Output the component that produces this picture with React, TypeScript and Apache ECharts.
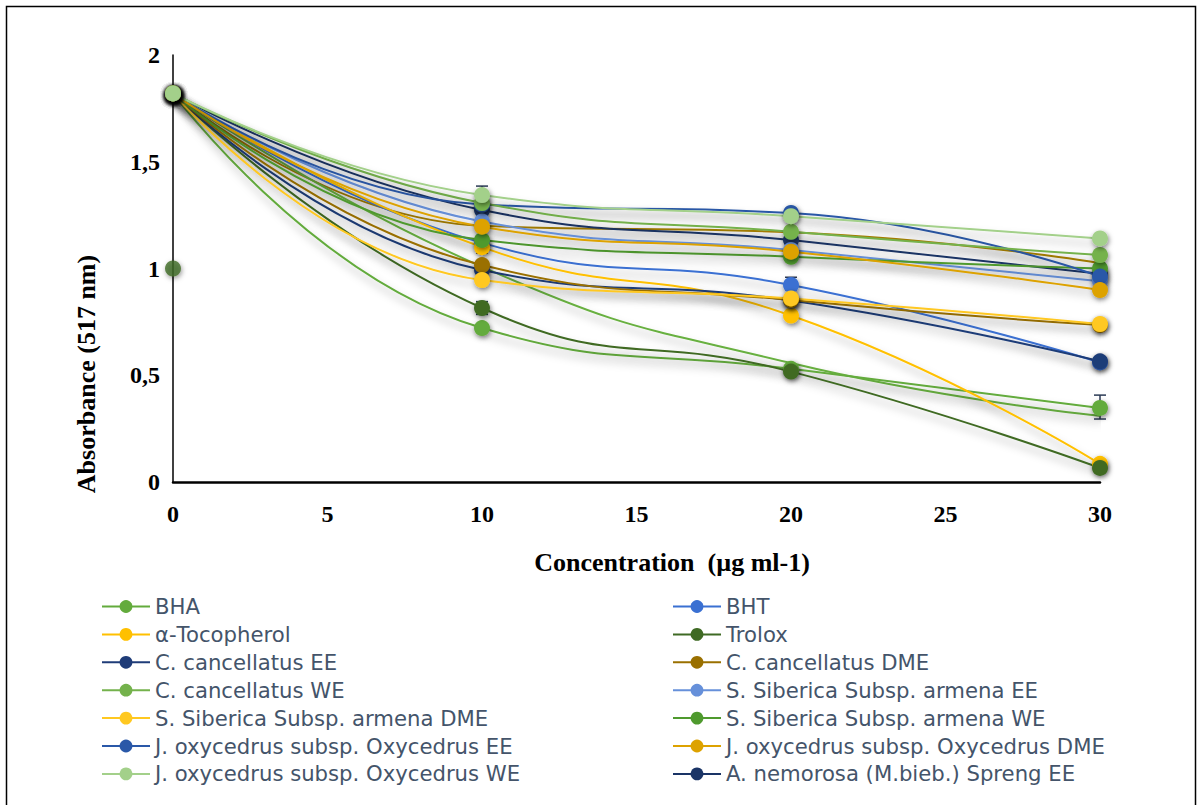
import React, { useEffect, useRef } from "react";
import * as echarts from "echarts";

// Concentrations (µg ml-1)
const concentrations = [0, 10, 20, 30];

// Absorbance at 517 nm for each sample
const bha = [1.82, 0.721, 0.53, 0.347];
const bht = [1.82, 1.12, 0.923, 0.56];
const tocopherol = [1.82, 1.1, 0.78, 0.085];
const trolox = [1.82, 0.815, 0.517, 0.066];
const cCancEE = [1.82, 0.993, 0.85, 0.565];
const cCancDME = [1.82, 1.016, 0.852, 0.735];
const cCancWE = [1.82, 1.307, 1.172, 1.063];
const sSibEE = [1.82, 1.22, 1.087, 0.94];
const sSibDME = [1.82, 0.946, 0.86, 0.74];
const sSibWE = [1.82, 1.133, 1.055, 1.0];
const jOxyEE = [1.82, 1.3, 1.26, 0.962];
const jOxyDME = [1.82, 1.196, 1.079, 0.899];
const jOxyWE = [1.82, 1.344, 1.245, 1.141];
const aNemEE = [1.82, 1.274, 1.133, 0.975];
const aNemDME = [1.82, 1.2, 1.17, 1.025];
const aNemWE = [1.82, 1.008, 0.557, 0.31];

// Single reference reading at zero concentration
const referencePoint = [[0, 1.0]];

// Error bars: [concentration, low, high]
const errorBars = [
  [10, 1.3, 1.386],
  [10, 0.785, 0.845],
  [10, 1.072, 1.133],
  [10, 0.94, 0.993],
  [20, 0.9, 0.959],
  [30, 0.295, 0.407],
];

const yTicks = [0, 0.5, 1, 1.5, 2];
const xTicks = [0, 5, 10, 15, 20, 25, 30];

type S = { name: string; values: number[]; color: string; marker?: boolean };

// Drawing order: later entries sit on top
const samples: S[] = [
  { name: "A. nemorosa (M.bieb.) Spreng DME", values: aNemDME, color: "#A88000", marker: false },
  { name: "A. nemorosa (M.bieb.) Spreng WE", values: aNemWE, color: "#68B040", marker: false },
  { name: "A. nemorosa (M.bieb.) Spreng EE", values: aNemEE, color: "#1A3466" },
  { name: "BHA", values: bha, color: "#63AB3C" },
  { name: "BHT", values: bht, color: "#3A70D2" },
  { name: "α-Tocopherol", values: tocopherol, color: "#FFC000" },
  { name: "Trolox", values: trolox, color: "#3F6A24" },
  { name: "C. cancellatus EE", values: cCancEE, color: "#1F3C78" },
  { name: "C. cancellatus DME", values: cCancDME, color: "#9A7000" },
  { name: "S. Siberica Subsp. armena EE", values: sSibEE, color: "#6690DA" },
  { name: "S. Siberica Subsp. armena DME", values: sSibDME, color: "#FFC820" },
  { name: "S. Siberica Subsp. armena WE", values: sSibWE, color: "#4F9A2E" },
  { name: "J. oxycedrus subsp. Oxycedrus EE", values: jOxyEE, color: "#2A58A8" },
  { name: "J. oxycedrus subsp. Oxycedrus DME", values: jOxyDME, color: "#DDA200" },
  { name: "C. cancellatus WE", values: cCancWE, color: "#74B24C" },
  { name: "J. oxycedrus subsp. Oxycedrus WE", values: jOxyWE, color: "#A3D08A" },
];

const legendLeft = [
  "BHA",
  "α-Tocopherol",
  "C. cancellatus EE",
  "C. cancellatus WE",
  "S. Siberica Subsp. armena DME",
  "J. oxycedrus subsp. Oxycedrus EE",
  "J. oxycedrus subsp. Oxycedrus WE",
];
const legendRight = [
  "BHT",
  "Trolox",
  "C. cancellatus DME",
  "S. Siberica Subsp. armena EE",
  "S. Siberica Subsp. armena WE",
  "J. oxycedrus subsp. Oxycedrus DME",
  "A. nemorosa (M.bieb.) Spreng EE",
];

const serif = '"Liberation Serif", "Times New Roman", serif';
const legendText = {
  fontFamily: '"DejaVu Sans", "Noto Sans", sans-serif',
  fontSize: 21.2,
  color: "#44546A",
};

export default function App() {
  const ref = useRef<HTMLDivElement>(null);

  useEffect(() => {
    if (!ref.current) return;
    const chart = echarts.init(ref.current, null, { renderer: "svg" });

    const lineSeries = samples.map((s) => ({
      type: "line",
      name: s.name,
      data: concentrations.map((c, i) => [c, s.values[i]]),
      smooth: 0.5,
      symbol: s.marker === false ? "none" : "circle",
      showSymbol: s.marker !== false,
      symbolSize: 16,
      z: 3,
      lineStyle: {
        color: s.color,
        width: 2,
        shadowColor: "rgba(0,0,0,0.34)",
        shadowBlur: 8,
        shadowOffsetX: 2,
        shadowOffsetY: 6,
      },
      itemStyle: {
        color: s.color,
        shadowColor: "rgba(0,0,0,0.5)",
        shadowBlur: 5,
        shadowOffsetX: 1,
        shadowOffsetY: 2,
      },
      emphasis: { disabled: true },
    }));

    const legendBase = {
      orient: "vertical",
      top: 591,
      height: 260,
      itemWidth: 48,
      itemHeight: 16,
      itemGap: 6.9,
      textStyle: legendText,
      selectedMode: false,
    };

    chart.setOption({
      animation: false,
      backgroundColor: "#ffffff",
      grid: { left: 173, right: 103, top: 55, bottom: 323, containLabel: false },
      xAxis: {
        type: "value",
        min: xTicks[0],
        max: xTicks[xTicks.length - 1],
        interval: 5,
        axisLine: { show: true, lineStyle: { color: "#000", width: 2.5 } },
        axisTick: { show: false },
        splitLine: { show: false },
        axisLabel: {
          margin: 20,
          fontFamily: serif,
          fontWeight: "bold",
          fontSize: 24,
          color: "#000",
        },
      },
      yAxis: {
        type: "value",
        min: yTicks[0],
        max: yTicks[yTicks.length - 1],
        interval: 0.5,
        axisLine: { show: true, lineStyle: { color: "#000", width: 1.5 } },
        axisTick: { show: false },
        splitLine: { show: false },
        axisLabel: {
          margin: 13,
          fontFamily: serif,
          fontWeight: "bold",
          fontSize: 24,
          color: "#000",
          formatter: (v: number) => String(v).replace(".", ","),
        },
      },
      legend: [
        { ...legendBase, data: legendLeft, left: 96 },
        { ...legendBase, data: legendRight, left: 667 },
      ],
      graphic: [
        {
          type: "rect",
          shape: { x: 6.5, y: 6.5, width: 1189, height: 840 },
          style: { fill: "none", stroke: "#000", lineWidth: 1.5 },
          silent: true,
        },
        {
          type: "text",
          x: 86,
          y: 374,
          rotation: Math.PI / 2,
          style: {
            text: "Absorbance (517 nm)",
            font: `bold 26px ${serif}`,
            textAlign: "center",
            textVerticalAlign: "middle",
            fill: "#000",
          },
        },
        {
          type: "text",
          x: 672,
          y: 562,
          style: {
            text: "Concentration  (µg ml-1)",
            font: `bold 26px ${serif}`,
            textAlign: "center",
            textVerticalAlign: "middle",
            fill: "#000",
          },
        },
      ],
      series: [
        {
          type: "custom",
          name: "error",
          z: 2,
          data: errorBars,
          encode: { x: 0, y: [1, 2] },
          renderItem: (params: any, api: any) => {
            const x = api.value(0);
            const lo = api.coord([x, api.value(1)]);
            const hi = api.coord([x, api.value(2)]);
            const w = 6;
            const st = { stroke: "#2B3A55", lineWidth: 1.5 };
            return {
              type: "group",
              children: [
                { type: "line", shape: { x1: lo[0], y1: lo[1], x2: hi[0], y2: hi[1] }, style: st },
                { type: "line", shape: { x1: lo[0] - w, y1: lo[1], x2: lo[0] + w, y2: lo[1] }, style: st },
                { type: "line", shape: { x1: hi[0] - w, y1: hi[1], x2: hi[0] + w, y2: hi[1] }, style: st },
              ],
            };
          },
        },
        {
          type: "scatter",
          name: "reference",
          data: referencePoint,
          symbolSize: 16,
          z: 3,
          itemStyle: {
            color: "#3F6A24",
            shadowColor: "rgba(0,0,0,0.5)",
            shadowBlur: 5,
            shadowOffsetX: 1,
            shadowOffsetY: 2,
          },
        },
        ...lineSeries,
      ],
    });

    return () => chart.dispose();
  }, []);

  return (
    <div
      ref={ref}
      style={{ position: "fixed", left: 0, top: 0, width: 1203, height: 805 }}
    />
  );
}
